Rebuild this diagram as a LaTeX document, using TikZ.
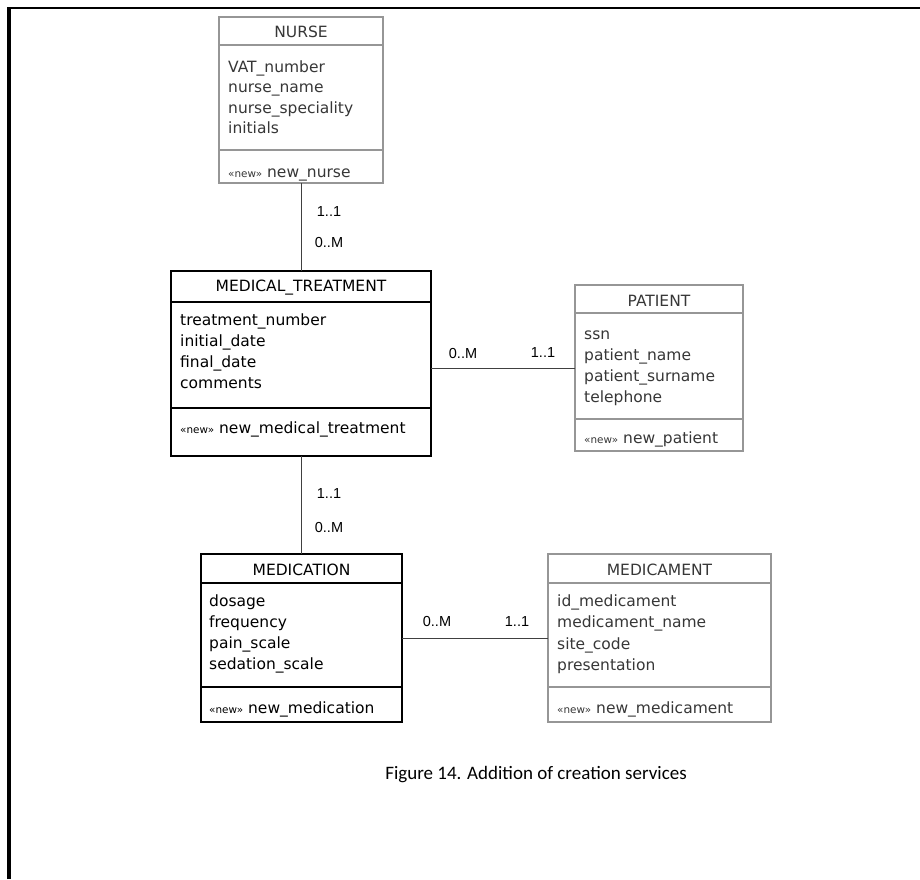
\documentclass[tikz,border=0pt]{standalone}
\usepackage{fontspec}
\setmainfont{DejaVu Sans}
\newfontfamily\capfont{Carlito}
\newfontfamily\lblfont{Liberation Sans}
\definecolor{gline}{RGB}{150,150,150}
\definecolor{gtext}{RGB}{55,55,55}
\newcommand{\stnew}{{\fontsize{10.4}{12}\selectfont «new»}}
\begin{document}
\begin{tikzpicture}[x=1pt,y=-1pt,
  ebox/.style={draw, line width=1.4pt, inner sep=0pt, outer sep=0pt},
  gbox/.style={ebox, draw=gline},
  bbox/.style={ebox, draw=black},
  gsep/.style={draw=gline, line width=1.4pt},
  bsep/.style={draw=black, line width=1.4pt},
  txt/.style={anchor=base west, inner sep=0pt, font=\fontsize{15.5}{18}\selectfont},
  ttl/.style={anchor=base, inner sep=0pt, font=\fontsize{15.5}{18}\selectfont},
  lbl/.style={inner sep=0pt, font=\lblfont\fontsize{14.5}{17}\selectfont},
  conn/.style={draw=black!75, line width=1pt}]
\fill[white] (0,0) rectangle (920,879);
\useasboundingbox (0,0) rectangle (920,879);
% page frame
\draw[line width=4pt] (9,879) -- (9,6.75);
\draw[line width=2.5pt] (7,8) -- (920,8);

% NURSE
\node[gbox, minimum width=164pt, minimum height=166pt] (nurse) at (301,100) {};
\draw[gsep] (nurse.west |- 0,45) -- (nurse.east |- 0,45);
\draw[gsep] (nurse.west |- 0,150) -- (nurse.east |- 0,150);
\node[ttl, text=gtext] (nurse-t) at (301,37) {NURSE};
\foreach \t [count=\i] in {VAT\_number, nurse\_name, nurse\_speciality, initials}
  \node[txt, text=gtext] (nurse-a\i) at (228,{72+20.5*(\i-1)}) {\t};
\node[txt, text=gtext] (nurse-m) at (228,177) {\stnew{} new\_nurse};

% MEDICAL_TREATMENT
\node[bbox, minimum width=260pt, minimum height=185pt] (mt) at (301,363.5) {};
\draw[bsep] (mt.west |- 0,302) -- (mt.east |- 0,302);
\draw[bsep] (mt.west |- 0,408) -- (mt.east |- 0,408);
\node[ttl] (mt-t) at (301,291) {MEDICAL\_TREATMENT};
\foreach \t [count=\i] in {treatment\_number, initial\_date, final\_date, comments}
  \node[txt] (mt-a\i) at (180,{325+21*(\i-1)}) {\t};
\node[txt] (mt-m) at (180,433) {\stnew{} new\_medical\_treatment};

% PATIENT
\node[gbox, minimum width=168pt, minimum height=166pt] (pat) at (659,368) {};
\draw[gsep] (pat.west |- 0,313) -- (pat.east |- 0,313);
\draw[gsep] (pat.west |- 0,419) -- (pat.east |- 0,419);
\node[ttl, text=gtext] (pat-t) at (659,306) {PATIENT};
\foreach \t [count=\i] in {ssn, patient\_name, patient\_surname, telephone}
  \node[txt, text=gtext] (pat-a\i) at (584,{339+21*(\i-1)}) {\t};
\node[txt, text=gtext] (pat-m) at (584,443) {\stnew{} new\_patient};

% MEDICATION
\node[bbox, minimum width=201pt, minimum height=168pt] (med) at (301.5,638) {};
\draw[bsep] (med.west |- 0,583) -- (med.east |- 0,583);
\draw[bsep] (med.west |- 0,687) -- (med.east |- 0,687);
\node[ttl] (med-t) at (301.5,575) {MEDICATION};
\foreach \t [count=\i] in {dosage, frequency, pain\_scale, sedation\_scale}
  \node[txt] (med-a\i) at (209,{606+21*(\i-1)}) {\t};
\node[txt] (med-m) at (209,713) {\stnew{} new\_medication};

% MEDICAMENT
\node[gbox, minimum width=223pt, minimum height=168pt] (mdc) at (659.5,638) {};
\draw[gsep] (mdc.west |- 0,583) -- (mdc.east |- 0,583);
\draw[gsep] (mdc.west |- 0,687) -- (mdc.east |- 0,687);
\node[ttl, text=gtext] (mdc-t) at (659.5,575) {MEDICAMENT};
\foreach \t [count=\i] in {id\_medicament, medicament\_name, site\_code, presentation}
  \node[txt, text=gtext] (mdc-a\i) at (557,{606+21.5*(\i-1)}) {\t};
\node[txt, text=gtext] (mdc-m) at (557,713) {\stnew{} new\_medicament};

% connectors
\draw[conn] (nurse.south) -- (mt.north);
\draw[conn] (mt.south) -- (med.north -| mt.south);
\draw[conn] (pat.west -| mt.east) -- (pat.west);
\draw[conn] (med.east) -- (mdc.west);

% multiplicities
\node[lbl] (l1) at (329,212) {1..1};
\node[lbl] (l2) at (329,243) {0..M};
\node[lbl] (l3) at (329,493) {1..1};
\node[lbl] (l4) at (329,527) {0..M};
\node[lbl] (l5) at (463,353) {0..M};
\node[lbl] (l6) at (543,353) {1..1};
\node[lbl] (l7) at (437,621) {0..M};
\node[lbl] (l8) at (517,621) {1..1};

% caption
\node[inner sep=0pt, font=\capfont\fontsize{19}{22}\selectfont] (cap) at (536,775) {Figure 14. Addition of creation services};
\end{tikzpicture}
\end{document}
